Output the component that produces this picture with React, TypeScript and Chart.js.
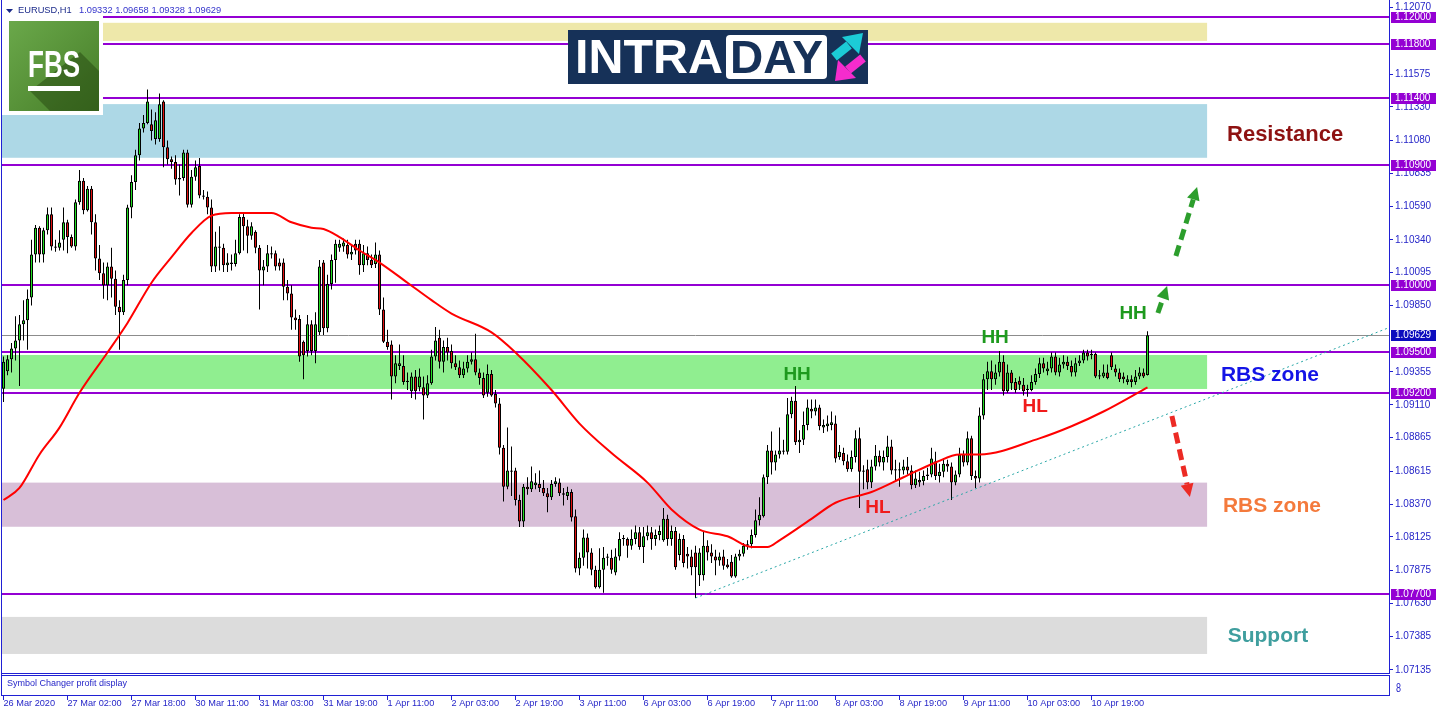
import React, { useEffect, useRef } from "react";
import { Chart, registerables } from "chart.js";

Chart.register(...registerables);

// ---------- DATA ----------
const TIME_LABELS = ["26 Mar 2020", "27 Mar 02:00", "27 Mar 18:00", "30 Mar 11:00", "31 Mar 03:00", "31 Mar 19:00", "1 Apr 11:00", "2 Apr 03:00", "2 Apr 19:00", "3 Apr 11:00", "6 Apr 03:00", "6 Apr 19:00", "7 Apr 11:00", "8 Apr 03:00", "8 Apr 19:00", "9 Apr 11:00", "10 Apr 03:00", "10 Apr 19:00"];
const TIME_LABEL_BARS = [0, 16, 32, 48, 64, 80, 96, 112, 128, 144, 160, 176, 192, 208, 224, 240, 256, 272];

const OPEN = [
  1.0923, 1.0936, 1.0945, 1.0953, 1.0959, 1.0971, 1.0974, 1.0991, 1.1023, 1.1043,
  1.1023, 1.1041, 1.1053, 1.1029, 1.1028, 1.1034, 1.1047, 1.1036, 1.1029, 1.1062,
  1.1078, 1.1056, 1.1072, 1.1047, 1.1020, 1.1009, 1.1000, 1.1014, 1.1005, 1.0984,
  1.0980, 1.1004, 1.1058, 1.1077, 1.1097, 1.1117, 1.1121, 1.1120, 1.1109, 1.1109,
  1.1137, 1.1103, 1.1094, 1.1092, 1.1079, 1.1080, 1.1099, 1.1060, 1.1081, 1.1089,
  1.1067, 1.1066, 1.1058, 1.1014, 1.1029, 1.1028, 1.1015, 1.1017, 1.1016, 1.1024,
  1.1051, 1.1044, 1.1037, 1.1040, 1.1028, 1.1011, 1.1014, 1.1024, 1.1024, 1.1017,
  1.1017, 1.0999, 1.0994, 1.0976, 1.0975, 1.0958, 1.0951, 1.0971, 1.0951, 1.0965,
  1.1017, 1.0968, 1.1001, 1.1019, 1.1028, 1.1029, 1.1030, 1.1023, 1.1031, 1.1031,
  1.1015, 1.1024, 1.1019, 1.1016, 1.1023, 1.0982, 1.0958, 1.0956, 1.0932, 1.0940,
  1.0940, 1.0929, 1.0921, 1.0932, 1.0924, 1.0924, 1.0918, 1.0927, 1.0947, 1.0961,
  1.0943, 1.0954, 1.0951, 1.0942, 1.0939, 1.0933, 1.0938, 1.0943, 1.0945, 1.0935,
  1.0931, 1.0920, 1.0934, 1.0919, 1.0912, 1.0879, 1.0850, 1.0862, 1.0862, 1.0840,
  1.0824, 1.0850, 1.0848, 1.0851, 1.0852, 1.0849, 1.0845, 1.0842, 1.0852, 1.0853,
  1.0845, 1.0843, 1.0846, 1.0828, 1.0789, 1.0797, 1.0812, 1.0801, 1.0788, 1.0775,
  1.0788, 1.0797, 1.0797, 1.0786, 1.0798, 1.0811, 1.0811, 1.0806, 1.0811, 1.0816,
  1.0805, 1.0813, 1.0816, 1.0811, 1.0814, 1.0810, 1.0826, 1.0811, 1.0817, 1.0799,
  1.0811, 1.0800, 1.0798, 1.0801, 1.0784, 1.0784, 1.0806, 1.0801, 1.0798, 1.0795,
  1.0798, 1.0792, 1.0794, 1.0783, 1.0798, 1.0800, 1.0806, 1.0807, 1.0814, 1.0825,
  1.0828, 1.0857, 1.0877, 1.0868, 1.0874, 1.0876, 1.0876, 1.0904, 1.0914, 1.0883,
  1.0885, 1.0896, 1.0908, 1.0906, 1.0909, 1.0894, 1.0895, 1.0896, 1.0897, 1.0872,
  1.0875, 1.0869, 1.0863, 1.0872, 1.0886, 1.0861, 1.0863, 1.0853, 1.0865, 1.0873,
  1.0868, 1.0872, 1.0880, 1.0863, 1.0862, 1.0862, 1.0865, 1.0862, 1.0851, 1.0855,
  1.0854, 1.0859, 1.0859, 1.0869, 1.0858, 1.0861, 1.0867, 1.0865, 1.0853, 1.0859,
  1.0874, 1.0868, 1.0886, 1.0858, 1.0856, 1.0903, 1.0930, 1.0936, 1.0930, 1.0935,
  1.0943, 1.0921, 1.0935, 1.0928, 1.0929, 1.0926, 1.0922, 1.0922, 1.0928, 1.0934,
  1.0942, 1.0936, 1.0938, 1.0947, 1.0935, 1.0941, 1.0943, 1.0940, 1.0935, 1.0942,
  1.0944, 1.0950, 1.0949, 1.0949, 1.0933, 1.0932, 1.0935, 1.0948, 1.0938, 1.0935,
  1.0932, 1.0928, 1.0930, 1.0928, 1.0932, 1.0935, 1.09332,
];
const HIGH = [
  1.0947, 1.0948, 1.0957, 1.0977, 1.0978, 1.0989, 1.0997, 1.1034, 1.1045, 1.1044,
  1.1043, 1.1058, 1.1058, 1.1034, 1.1041, 1.1058, 1.1049, 1.1038, 1.1064, 1.1086,
  1.1080, 1.1074, 1.1074, 1.1053, 1.1030, 1.1017, 1.1017, 1.1028, 1.1011, 1.0989,
  1.1008, 1.1060, 1.1082, 1.1101, 1.1121, 1.1127, 1.1146, 1.1131, 1.1129, 1.1143,
  1.1138, 1.1108, 1.1096, 1.1097, 1.1090, 1.1101, 1.1101, 1.1086, 1.1093, 1.1095,
  1.1071, 1.1070, 1.1064, 1.1040, 1.1044, 1.1031, 1.1024, 1.1023, 1.1034, 1.1053,
  1.1054, 1.1049, 1.1047, 1.1041, 1.1030, 1.1019, 1.1030, 1.1029, 1.1026, 1.1020,
  1.1020, 1.1004, 1.1000, 1.0982, 1.0978, 1.0959, 1.0978, 1.0974, 1.0980, 1.1019,
  1.1019, 1.1008, 1.1023, 1.1034, 1.1034, 1.1035, 1.1034, 1.1030, 1.1034, 1.1034,
  1.1030, 1.1029, 1.1023, 1.1032, 1.1026, 1.0991, 1.0967, 1.0959, 1.0948, 1.0956,
  1.0948, 1.0935, 1.0935, 1.0937, 1.0938, 1.0932, 1.0933, 1.0952, 1.0969, 1.0967,
  1.0959, 1.0961, 1.0956, 1.0948, 1.0944, 1.0943, 1.0948, 1.0950, 1.0964, 1.0938,
  1.0935, 1.0941, 1.0937, 1.0922, 1.0916, 1.0881, 1.0894, 1.0880, 1.0864, 1.0844,
  1.0852, 1.0857, 1.0865, 1.0860, 1.0862, 1.0855, 1.0849, 1.0855, 1.0857, 1.0856,
  1.0849, 1.0850, 1.0848, 1.0833, 1.0801, 1.0818, 1.0815, 1.0804, 1.0791, 1.0804,
  1.0805, 1.0800, 1.0803, 1.0804, 1.0816, 1.0814, 1.0812, 1.0818, 1.0821, 1.0820,
  1.0820, 1.0821, 1.0820, 1.0818, 1.0821, 1.0834, 1.0829, 1.0821, 1.0820, 1.0815,
  1.0814, 1.0805, 1.0803, 1.0806, 1.0804, 1.0817, 1.0810, 1.0807, 1.0803, 1.0801,
  1.0803, 1.0796, 1.0799, 1.0800, 1.0803, 1.0808, 1.0810, 1.0818, 1.0833, 1.0842,
  1.0859, 1.0881, 1.0891, 1.0877, 1.0894, 1.0885, 1.0916, 1.0917, 1.0925, 1.0892,
  1.0906, 1.0915, 1.0915, 1.0915, 1.0911, 1.0900, 1.0903, 1.0906, 1.0903, 1.0881,
  1.0879, 1.0874, 1.0877, 1.0892, 1.0894, 1.0866, 1.0870, 1.0870, 1.0881, 1.0877,
  1.0877, 1.0888, 1.0885, 1.0870, 1.0868, 1.0870, 1.0872, 1.0866, 1.0862, 1.0861,
  1.0862, 1.0864, 1.0879, 1.0876, 1.0867, 1.0871, 1.0870, 1.0868, 1.0862, 1.0879,
  1.0877, 1.0891, 1.0888, 1.0862, 1.0909, 1.0934, 1.0943, 1.0944, 1.0941, 1.0951,
  1.0948, 1.0941, 1.0937, 1.0931, 1.0932, 1.0931, 1.0926, 1.0933, 1.0938, 1.0946,
  1.0946, 1.0943, 1.0950, 1.0950, 1.0946, 1.0948, 1.0947, 1.0944, 1.0946, 1.0948,
  1.0952, 1.0952, 1.0952, 1.0950, 1.0937, 1.0941, 1.0941, 1.0950, 1.0941, 1.0938,
  1.0935, 1.0933, 1.0933, 1.0937, 1.0939, 1.0938, 1.09658,
];
const LOW = [
  1.0913, 1.0933, 1.0935, 1.0944, 1.0925, 1.0959, 1.0952, 1.0985, 1.1017, 1.1017,
  1.1017, 1.1038, 1.1026, 1.1025, 1.1026, 1.1026, 1.1024, 1.1028, 1.1026, 1.1060,
  1.1053, 1.1055, 1.1038, 1.1011, 1.1004, 1.0990, 1.0989, 1.0991, 1.0978, 1.0952,
  1.0978, 1.1000, 1.1050, 1.1071, 1.1093, 1.1114, 1.1120, 1.1108, 1.1105, 1.1107,
  1.1088, 1.1090, 1.1087, 1.1075, 1.1067, 1.1078, 1.1058, 1.1058, 1.1078, 1.1065,
  1.1064, 1.1053, 1.1010, 1.1010, 1.1011, 1.1010, 1.1010, 1.1011, 1.1014, 1.1023,
  1.1026, 1.1024, 1.1034, 1.1024, 1.0982, 1.1000, 1.1010, 1.1020, 1.1011, 1.1011,
  1.0989, 1.0989, 1.0967, 1.0967, 1.0943, 1.0930, 1.0947, 1.0948, 1.0942, 1.0963,
  1.0963, 1.0965, 1.0997, 1.1002, 1.1025, 1.1025, 1.1020, 1.1019, 1.1023, 1.1008,
  1.1010, 1.1015, 1.1013, 1.1013, 1.0978, 1.0957, 1.0952, 1.0915, 1.0927, 1.0937,
  1.0926, 1.0922, 1.0916, 1.0915, 1.0921, 1.0900, 1.0916, 1.0926, 1.0944, 1.0938,
  1.0935, 1.0944, 1.0938, 1.0937, 1.0931, 1.0931, 1.0935, 1.0941, 1.0933, 1.0926,
  1.0916, 1.0917, 1.0917, 1.0909, 1.0874, 1.0839, 1.0848, 1.0843, 1.0836, 1.0820,
  1.0820, 1.0844, 1.0846, 1.0848, 1.0846, 1.0843, 1.0831, 1.0840, 1.0850, 1.0843,
  1.0836, 1.0840, 1.0824, 1.0786, 1.0784, 1.0791, 1.0789, 1.0784, 1.0774, 1.0774,
  1.0771, 1.0791, 1.0785, 1.0784, 1.0795, 1.0806, 1.0797, 1.0803, 1.0807, 1.0803,
  1.0793, 1.0810, 1.0803, 1.0806, 1.0810, 1.0809, 1.0806, 1.0806, 1.0788, 1.0795,
  1.0790, 1.0789, 1.0784, 1.0767, 1.0776, 1.0780, 1.0795, 1.0793, 1.0784, 1.0791,
  1.0788, 1.0789, 1.0782, 1.0782, 1.0795, 1.0798, 1.0803, 1.0804, 1.0812, 1.0821,
  1.0827, 1.0852, 1.0859, 1.0862, 1.0871, 1.0874, 1.0874, 1.0901, 1.0881, 1.0875,
  1.0881, 1.0892, 1.0901, 1.0903, 1.0892, 1.0890, 1.0891, 1.0892, 1.0868, 1.0870,
  1.0866, 1.0861, 1.0861, 1.0868, 1.0834, 1.0848, 1.0848, 1.0849, 1.0862, 1.0865,
  1.0862, 1.0868, 1.0859, 1.0855, 1.0850, 1.0859, 1.0859, 1.0848, 1.0849, 1.0850,
  1.0851, 1.0855, 1.0857, 1.0855, 1.0853, 1.0857, 1.0861, 1.0840, 1.0851, 1.0857,
  1.0865, 1.0866, 1.0855, 1.0849, 1.0853, 1.0900, 1.0922, 1.0922, 1.0926, 1.0932,
  1.0918, 1.0920, 1.0922, 1.0920, 1.0922, 1.0918, 1.0917, 1.0921, 1.0926, 1.0931,
  1.0935, 1.0933, 1.0935, 1.0933, 1.0932, 1.0938, 1.0937, 1.0932, 1.0932, 1.0940,
  1.0942, 1.0944, 1.0945, 1.0931, 1.0930, 1.0931, 1.0930, 1.0937, 1.0932, 1.0928,
  1.0927, 1.0926, 1.0924, 1.0926, 1.0930, 1.0931, 1.09328,
];
const CLOSE = [
  1.0943, 1.0945, 1.0953, 1.0959, 1.0971, 1.0974, 1.0990, 1.1023, 1.1043, 1.1023,
  1.1041, 1.1053, 1.1029, 1.1028, 1.1032, 1.1047, 1.1036, 1.1029, 1.1062, 1.1078,
  1.1056, 1.1072, 1.1047, 1.1020, 1.1009, 1.1000, 1.1014, 1.1005, 1.0984, 1.0980,
  1.1004, 1.1058, 1.1077, 1.1097, 1.1117, 1.1121, 1.1137, 1.1115, 1.1123, 1.1135,
  1.1103, 1.1094, 1.1092, 1.1079, 1.1080, 1.1099, 1.1060, 1.1081, 1.1088, 1.1067,
  1.1066, 1.1058, 1.1014, 1.1029, 1.1028, 1.1015, 1.1017, 1.1016, 1.1024, 1.1051,
  1.1044, 1.1037, 1.1044, 1.1028, 1.1011, 1.1014, 1.1024, 1.1023, 1.1014, 1.1014,
  1.0999, 1.0994, 1.0976, 1.0974, 1.0947, 1.0948, 1.0971, 1.0951, 1.0971, 1.1014,
  1.0968, 1.1001, 1.1019, 1.1031, 1.1031, 1.1032, 1.1023, 1.1025, 1.1026, 1.1015,
  1.1024, 1.1019, 1.1015, 1.1023, 1.0982, 1.0958, 1.0954, 1.0932, 1.0942, 1.0942,
  1.0928, 1.0928, 1.0932, 1.0921, 1.0932, 1.0918, 1.0927, 1.0947, 1.0959, 1.0943,
  1.0954, 1.0950, 1.0942, 1.0939, 1.0933, 1.0938, 1.0943, 1.0945, 1.0935, 1.0931,
  1.0918, 1.0934, 1.0918, 1.0912, 1.0879, 1.0850, 1.0862, 1.0861, 1.0840, 1.0824,
  1.0850, 1.0848, 1.0854, 1.0853, 1.0849, 1.0845, 1.0842, 1.0852, 1.0854, 1.0845,
  1.0844, 1.0846, 1.0827, 1.0789, 1.0797, 1.0812, 1.0801, 1.0788, 1.0775, 1.0788,
  1.0797, 1.0798, 1.0788, 1.0798, 1.0811, 1.0811, 1.0806, 1.0811, 1.0816, 1.0805,
  1.0813, 1.0816, 1.0811, 1.0814, 1.0817, 1.0826, 1.0811, 1.0817, 1.0790, 1.0811,
  1.0793, 1.0798, 1.0790, 1.0790, 1.0801, 1.0806, 1.0801, 1.0798, 1.0795, 1.0798,
  1.0791, 1.0790, 1.0783, 1.0798, 1.0800, 1.0806, 1.0807, 1.0814, 1.0825, 1.0829,
  1.0857, 1.0877, 1.0868, 1.0874, 1.0877, 1.0877, 1.0904, 1.0914, 1.0883, 1.0885,
  1.0896, 1.0909, 1.0906, 1.0909, 1.0895, 1.0896, 1.0897, 1.0898, 1.0871, 1.0876,
  1.0869, 1.0863, 1.0872, 1.0886, 1.0861, 1.0862, 1.0853, 1.0865, 1.0873, 1.0868,
  1.0872, 1.0880, 1.0862, 1.0862, 1.0863, 1.0865, 1.0862, 1.0851, 1.0856, 1.0853,
  1.0858, 1.0858, 1.0871, 1.0858, 1.0861, 1.0867, 1.0865, 1.0853, 1.0859, 1.0874,
  1.0868, 1.0886, 1.0858, 1.0856, 1.0903, 1.0930, 1.0936, 1.0930, 1.0935, 1.0943,
  1.0921, 1.0935, 1.0927, 1.0922, 1.0926, 1.0921, 1.0923, 1.0928, 1.0934, 1.0942,
  1.0938, 1.0938, 1.0947, 1.0935, 1.0941, 1.0943, 1.0940, 1.0935, 1.0942, 1.0944,
  1.0950, 1.0947, 1.0948, 1.0932, 1.0932, 1.0935, 1.0931, 1.0939, 1.0935, 1.0930,
  1.0930, 1.0930, 1.0928, 1.0932, 1.0935, 1.0932, 1.09629,
];

// Moving average (red), read at sample bars
const MA_BARS = [0, 4, 9, 14, 19, 26, 31, 37, 42, 47, 52, 57, 62, 67, 72, 77, 80, 84, 89, 94, 101, 107, 112, 122, 128, 137, 144, 152, 161, 167, 174, 181, 187, 191, 194, 202, 208, 217, 225, 233, 239, 244, 259, 267, 275, 286];
const MA_VALUES = [1.0840, 1.0849, 1.0874, 1.0894, 1.0920, 1.0950, 1.0972, 1.1002, 1.1021, 1.1039, 1.1052, 1.1054, 1.1054, 1.1054, 1.1047, 1.1043, 1.1042, 1.1036, 1.1026, 1.1017, 1.1002, 1.0989, 1.0979, 1.0965, 1.0950, 1.0922, 1.0897, 1.0875, 1.0853, 1.0833, 1.0818, 1.0813, 1.0805, 1.0805, 1.0810, 1.0826, 1.0838, 1.0846, 1.0857, 1.0868, 1.0874, 1.0874, 1.0886, 1.0895, 1.0906, 1.0924];

// Dotted trend line
const TREND_BARS = [173, 346.2];
const TREND_VALUES = [1.0767, 1.09683];

// Y axis tick labels
const PRICE_TICKS = [1.1207, 1.11575, 1.1133, 1.1108, 1.10835, 1.1059, 1.1034, 1.10095, 1.0985, 1.09355, 1.0911, 1.08865, 1.08615, 1.0837, 1.08125, 1.07875, 1.0763, 1.07385, 1.07135];

// Horizontal levels
const LEVELS = [1.12, 1.118, 1.114, 1.109, 1.1, 1.095, 1.092, 1.077];
const LAST_PRICE = 1.09629;

// Zones
const ZONE_TOP = [1.11957, 1.11351, 1.09481, 1.0853, 1.07529];
const ZONE_BOTTOM = [1.11822, 1.10951, 1.09228, 1.08201, 1.07253];
const ZONE_COLORS = ["#EEE8AA", "#ADD8E6", "#90EE90", "#D8BFD8", "#DCDCDC"];
const ZONE_END_BAR = 300.9;

// Text annotations
const NOTE_TEXT = ["HH", "HH", "HH", "HL", "HL", "Resistance", "RBS zone", "RBS zone", "Support"];
const NOTE_BAR = [198.4, 247.9, 282.4, 218.6, 257.9, 320.4, 316.6, 317.1, 316.1];
const NOTE_PRICE = [1.09335, 1.09608, 1.09787, 1.08341, 1.09093, 1.1112, 1.09332, 1.08356, 1.07387];
const NOTE_COLOR = ["#1e9a1e", "#1e9a1e", "#1e9a1e", "#f01c1c", "#f01c1c", "#8e1212", "#1414e6", "#f47a3c", "#3f9e9e"];
const NOTE_SIZE = [19, 19, 19, 19, 19, 22, 21, 21, 21];

// Arrows
const ARROW_FROM_BAR = [293.1, 288.6, 292.1];
const ARROW_FROM_PRICE = [1.10219, 1.09794, 1.09026];
const ARROW_TO_BAR = [298.4, 290.9, 296.6];
const ARROW_TO_PRICE = [1.10733, 1.09995, 1.08423];
const ARROW_COLOR = ["#2c9e2c", "#2c9e2c", "#ec2a24"];

// ---------- STYLE ----------
const X_MIN = -0.375;
const X_MAX = 346.375;
const Y_MIN = 1.07111;
const Y_MAX = 1.12112;
const BULL = "#22dd22";
const BEAR = "#e01010";
const PURPLE = "#9400D3";
const FRAME = "#2020d4";
const AXIS_TEXT = "#2626c8";
const FONT = '"Liberation Sans", Arial, sans-serif';

function fitText(ctx: any, text: string, x: number, y: number, width: number) {
  const w = ctx.measureText(text).width;
  ctx.save();
  ctx.translate(x, y);
  ctx.scale(width / w, 1);
  ctx.fillText(text, 0, 0);
  ctx.restore();
}

function drawArrow(ctx: any, x1: number, y1: number, x2: number, y2: number, color: string) {
  const ang = Math.atan2(y2 - y1, x2 - x1);
  const head = 13;
  const hx = x2 - Math.cos(ang) * head;
  const hy = y2 - Math.sin(ang) * head;
  ctx.save();
  ctx.strokeStyle = color;
  ctx.fillStyle = color;
  ctx.lineWidth = 5;
  ctx.setLineDash([11, 6]);
  ctx.beginPath();
  ctx.moveTo(x1, y1);
  ctx.lineTo(hx, hy);
  ctx.stroke();
  ctx.setLineDash([]);
  const px = -Math.sin(ang) * 6.5;
  const py = Math.cos(ang) * 6.5;
  ctx.beginPath();
  ctx.moveTo(x2, y2);
  ctx.lineTo(hx + px, hy + py);
  ctx.lineTo(hx - px, hy - py);
  ctx.closePath();
  ctx.fill();
  ctx.restore();
}

const overlayPlugin = {
  id: "overlay",
  beforeDatasetsDraw(chart: any) {
    const { ctx, chartArea: a, scales } = chart;
    const xs = scales.x;
    const ys = scales.y;
    ctx.save();
    ctx.beginPath();
    ctx.rect(a.left, a.top, a.right - a.left, a.bottom - a.top);
    ctx.clip();
    const xr = xs.getPixelForValue(ZONE_END_BAR);
    ZONE_TOP.forEach((t, k) => {
      const y1 = ys.getPixelForValue(t);
      const y2 = ys.getPixelForValue(ZONE_BOTTOM[k]);
      ctx.fillStyle = ZONE_COLORS[k];
      ctx.fillRect(a.left, y1, xr - a.left, y2 - y1);
    });
    const yl = Math.round(ys.getPixelForValue(LAST_PRICE)) + 0.5;
    ctx.strokeStyle = "#8c8c8c";
    ctx.lineWidth = 1;
    ctx.beginPath();
    ctx.moveTo(a.left, yl);
    ctx.lineTo(a.right, yl);
    ctx.stroke();
    ctx.strokeStyle = PURPLE;
    ctx.lineWidth = 2;
    LEVELS.forEach((v) => {
      const yy = Math.round(ys.getPixelForValue(v));
      ctx.beginPath();
      ctx.moveTo(a.left, yy);
      ctx.lineTo(a.right, yy);
      ctx.stroke();
    });
    ctx.restore();
  },
  afterDatasetsDraw(chart: any) {
    const { ctx, scales } = chart;
    const xs = scales.x;
    const ys = scales.y;
    ctx.save();
    // text notes
    ctx.textAlign = "center";
    ctx.textBaseline = "middle";
    NOTE_TEXT.forEach((t, k) => {
      ctx.font = `bold ${NOTE_SIZE[k]}px ${FONT}`;
      ctx.fillStyle = NOTE_COLOR[k];
      ctx.fillText(t, xs.getPixelForValue(NOTE_BAR[k]), ys.getPixelForValue(NOTE_PRICE[k]));
    });
    // arrows
    ARROW_COLOR.forEach((c, k) => {
      drawArrow(
        ctx,
        xs.getPixelForValue(ARROW_FROM_BAR[k]),
        ys.getPixelForValue(ARROW_FROM_PRICE[k]),
        xs.getPixelForValue(ARROW_TO_BAR[k]),
        ys.getPixelForValue(ARROW_TO_PRICE[k]),
        c
      );
    });

    // FBS logo
    ctx.textAlign = "left";
    ctx.textBaseline = "alphabetic";
    ctx.fillStyle = "#ffffff";
    ctx.fillRect(2, 16, 101, 99);
    const g = ctx.createLinearGradient(9, 21, 99, 111);
    g.addColorStop(0, "#6aa84a");
    g.addColorStop(1, "#467d28");
    ctx.fillStyle = g;
    ctx.fillRect(9, 21, 90, 90);
    ctx.fillStyle = "rgba(30,62,12,0.45)";
    ctx.beginPath();
    ctx.moveTo(30, 91);
    ctx.lineTo(80, 52);
    ctx.lineTo(99, 71);
    ctx.lineTo(99, 111);
    ctx.lineTo(50, 111);
    ctx.closePath();
    ctx.fill();
    ctx.fillStyle = "#ffffff";
    ctx.font = `bold 37px ${FONT}`;
    fitText(ctx, "FBS", 28, 77, 52);
    ctx.fillRect(28, 86, 52, 5);

    // INTRADAY logo
    ctx.fillStyle = "#163158";
    ctx.fillRect(568, 30, 300, 54);
    ctx.fillStyle = "#ffffff";
    ctx.font = `bold 49px ${FONT}`;
    fitText(ctx, "INTRA", 575, 73, 148);
    ctx.beginPath();
    if (ctx.roundRect) ctx.roundRect(726, 35, 101, 44, 4);
    else ctx.rect(726, 35, 101, 44);
    ctx.fill();
    ctx.fillStyle = "#163158";
    ctx.font = `bold 47px ${FONT}`;
    fitText(ctx, "DAY", 730, 73, 93);
    // cyan arrow (up-right)
    ctx.strokeStyle = "#1ccbd6";
    ctx.fillStyle = "#1ccbd6";
    ctx.lineWidth = 9;
    ctx.beginPath();
    ctx.moveTo(834, 57);
    ctx.lineTo(849, 45);
    ctx.stroke();
    ctx.beginPath();
    ctx.moveTo(842, 37);
    ctx.lineTo(863, 33);
    ctx.lineTo(859, 54);
    ctx.closePath();
    ctx.fill();
    // magenta arrow (down-left)
    ctx.strokeStyle = "#f52ccd";
    ctx.fillStyle = "#f52ccd";
    ctx.beginPath();
    ctx.moveTo(863, 58);
    ctx.lineTo(848, 70);
    ctx.stroke();
    ctx.beginPath();
    ctx.moveTo(838, 60);
    ctx.lineTo(835, 81);
    ctx.lineTo(856, 78);
    ctx.closePath();
    ctx.fill();

    // header
    ctx.fillStyle = "#1b2a8a";
    ctx.beginPath();
    ctx.moveTo(6, 9);
    ctx.lineTo(13, 9);
    ctx.lineTo(9.5, 13);
    ctx.closePath();
    ctx.fill();
    ctx.font = `9.3px ${FONT}`;
    ctx.textBaseline = "middle";
    ctx.fillText("EURUSD,H1", 18, 10.5);
    ctx.fillStyle = "#3434cc";
    ctx.fillText("1.09332 1.09658 1.09328 1.09629", 79, 10.5);
    ctx.restore();
  },
  afterDraw(chart: any) {
    const { ctx, chartArea: a, scales } = chart;
    const xs = scales.x;
    const ys = scales.y;
    ctx.save();
    ctx.fillStyle = FRAME;
    // main frame
    ctx.fillRect(1, 0, 1, 696);
    ctx.fillRect(a.right, 0, 1, a.bottom + 1);
    ctx.fillRect(1, a.bottom, a.right, 1);
    // sub window
    ctx.fillRect(1, a.bottom + 2, a.right, 1);
    ctx.fillRect(1, 695, a.right, 1);
    ctx.fillRect(a.right, a.bottom + 2, 1, 694 - a.bottom);
    ctx.fillStyle = AXIS_TEXT;
    ctx.font = `9px ${FONT}`;
    ctx.textBaseline = "middle";
    ctx.textAlign = "left";
    ctx.fillText("Symbol Changer profit display", 7, 684);
    ctx.font = `12px ${FONT}`;
    fitText(ctx, "8", 1396, 689, 5);
    // time tick marks
    ctx.fillStyle = FRAME;
    TIME_LABEL_BARS.forEach((b) => {
      const px = Math.round(xs.getPixelForValue(b) - 0.5);
      ctx.fillRect(px, 696, 1, 4);
    });
    // price tags
    const tag = (v: number, bg: string) => {
      const yy = Math.round(ys.getPixelForValue(v));
      ctx.fillStyle = bg;
      ctx.fillRect(a.right + 2, yy - 5, 1436 - a.right - 2, 11);
      ctx.fillStyle = "#ffffff";
      ctx.font = `10px ${FONT}`;
      ctx.textBaseline = "middle";
      ctx.fillText(v.toFixed(5), a.right + 6, yy + 0.5);
    };
    LEVELS.forEach((v) => tag(v, PURPLE));
    tag(LAST_PRICE, "#0c0cbe");
    ctx.restore();
  },
};

export default function App() {
  const ref = useRef<HTMLCanvasElement>(null);
  useEffect(() => {
    const canvas = ref.current;
    if (!canvas) return;
    const chart = new Chart(canvas, {
      type: "bar",
      data: {
        datasets: [
          {
            type: "line",
            label: "MA",
            data: MA_BARS.map((b, k) => ({ x: b, y: MA_VALUES[k] })),
            borderColor: "#ff0000",
            borderWidth: 2,
            pointRadius: 0,
            cubicInterpolationMode: "monotone",
            order: 0,
          } as any,
          {
            type: "line",
            label: "Trend",
            data: TREND_BARS.map((b, k) => ({ x: b, y: TREND_VALUES[k] })),
            borderColor: "#2aa7a7",
            borderWidth: 1,
            borderDash: [2, 3],
            pointRadius: 0,
            order: 1,
          } as any,
          {
            type: "bar",
            label: "Bodies",
            data: OPEN.map((o, i) => ({ x: i, y: [o, CLOSE[i]] })),
            backgroundColor: OPEN.map((o, i) => (CLOSE[i] >= o ? BULL : BEAR)),
            borderColor: "#000000",
            borderWidth: 1,
            borderSkipped: false,
            barThickness: 3,
            minBarLength: 1,
            grouped: false,
            inflateAmount: 0,
            order: 2,
          } as any,
          {
            type: "bar",
            label: "Wicks",
            data: LOW.map((l, i) => ({ x: i, y: [l, HIGH[i]] })),
            backgroundColor: "#000000",
            borderWidth: 0,
            barThickness: 1,
            minBarLength: 1,
            grouped: false,
            inflateAmount: 0,
            order: 3,
          } as any,
        ],
      },
      options: {
        responsive: false,
        maintainAspectRatio: false,
        animation: false,
        devicePixelRatio: 1,
        events: [],
        layout: { padding: { left: 2, top: 2, right: 0, bottom: 0 } },
        plugins: { legend: { display: false }, tooltip: { enabled: false } },
        scales: {
          x: {
            type: "linear",
            min: X_MIN,
            max: X_MAX,
            offset: false,
            grid: { display: false, drawTicks: false },
            border: { display: false },
            afterBuildTicks: (s: any) => {
              s.ticks = TIME_LABEL_BARS.map((v) => ({ value: v }));
            },
            afterFit: (s: any) => {
              s.height = 43;
              s.paddingLeft = 0;
              s.paddingRight = 0;
              s.paddingTop = 0;
              s.paddingBottom = 0;
            },
            ticks: {
              autoSkip: false,
              maxRotation: 0,
              minRotation: 0,
              align: "start",
              padding: 25,
              color: AXIS_TEXT,
              font: { family: FONT, size: 9.2 },
              callback: (_v: any, i: number) => TIME_LABELS[i] ?? "",
            },
          },
          y: {
            position: "right",
            min: Y_MIN,
            max: Y_MAX,
            grid: { display: true, drawOnChartArea: false, drawTicks: true, tickLength: 4, color: FRAME },
            border: { display: false },
            afterBuildTicks: (s: any) => {
              s.ticks = PRICE_TICKS.map((v) => ({ value: v }));
            },
            afterFit: (s: any) => {
              s.width = 47;
              s.paddingLeft = 0;
              s.paddingRight = 0;
              s.paddingTop = 0;
              s.paddingBottom = 0;
            },
            ticks: {
              autoSkip: false,
              padding: 2,
              color: AXIS_TEXT,
              font: { family: FONT, size: 10 },
              callback: (v: any) => Number(v).toFixed(5),
            },
          },
        },
      } as any,
      plugins: [overlayPlugin],
    });
    return () => chart.destroy();
  }, []);
  return (
    <div style={{ position: "fixed", left: 0, top: 0, width: 1436, height: 716, background: "#ffffff" }}>
      <canvas ref={ref} width={1436} height={716} style={{ display: "block", width: 1436, height: 716 }} />
    </div>
  );
}
